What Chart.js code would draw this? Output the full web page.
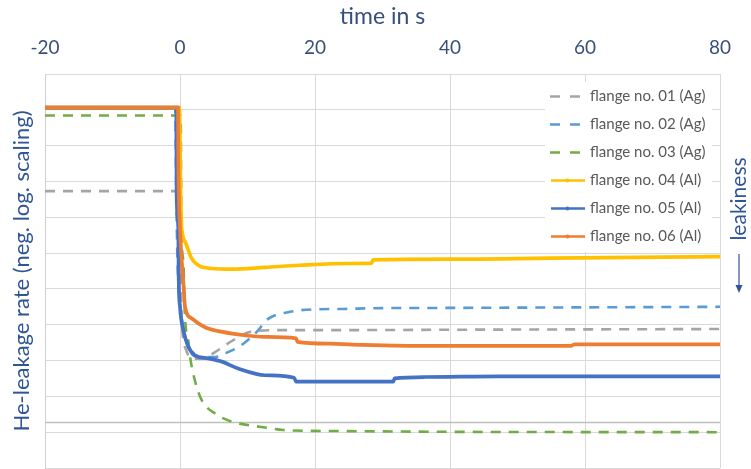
<!DOCTYPE html>
<html><head><meta charset="utf-8">
<script src="https://cdn.jsdelivr.net/npm/chart.js@4/dist/chart.umd.min.js"></script>
<style>html,body{margin:0;padding:0;background:#fff;}#wrap{width:751px;height:469px;}</style>
</head><body><div id="wrap"><canvas id="c" width="751" height="469"></canvas></div>
<script>
// ---- data (time in s, level = position on the reversed neg.-log leakage scale, 0 = top) ----
const xTickValues = [-20, 0, 20, 40, 60, 80];
const seriesNames = ['flange no. 01 (Ag)','flange no. 02 (Ag)','flange no. 03 (Ag)','flange no. 04 (Al)','flange no. 05 (Al)','flange no. 06 (Al)'];
const seriesColors = ['#A5A5A5','#5B9BD5','#70AD47','#FFC000','#4472C4','#ED7D31'];
const seriesDashed = [true, true, true, false, false, false];

const f01Time  = [-20, -0.3, 0.0, 0.3, 0.9, 2.0, 3.5, 4.9, 7.9, 10.4, 15.3, 24.1, 40, 80];
const f01Level = [3.27, 3.27, 5.0, 7.0, 7.7, 7.95, 7.95, 7.80, 7.43, 7.20, 7.15, 7.15, 7.14, 7.12];

const f02Time  = [-20, -0.7, -0.6, -0.4, 0.25, 0.75, 1.7, 2.7, 5.2, 6.7, 9.1, 11.6, 12.8, 16.3, 20.2, 24.2, 28.3, 40, 80];
const f02Level = [0.94, 0.94, 2.5, 5.0, 6.78, 7.34, 7.80, 7.90, 7.90, 7.80, 7.57, 7.15, 6.87, 6.64, 6.57, 6.56, 6.54, 6.53, 6.50];

const f03Time  = [-20, 0.1, 0.2, 0.5, 0.74, 1.23, 1.5, 2.2, 3.2, 5.2, 7.7, 10.1, 12.6, 15.3, 24.2, 40, 80];
const f03Level = [1.16, 1.16, 4.3, 5.24, 6.78, 7.43, 7.90, 8.55, 9.10, 9.48, 9.71, 9.80, 9.87, 9.94, 9.97, 9.99, 10.0];

const f04Time  = [-20, -0.1, 0.1, 0.25, 0.75, 1.7, 2.7, 4.7, 7.7, 12.6, 17.8, 25.2, 28.4, 28.6, 40, 55, 80];
const f04Level = [0.94, 0.94, 3.38, 4.30, 4.68, 5.14, 5.34, 5.43, 5.45, 5.40, 5.34, 5.29, 5.28, 5.19, 5.17, 5.14, 5.10];

const f05Time  = [-20, -0.55, -0.5, -0.25, -0.2, 0.0, 0.5, 1.2, 2.2, 4.2, 6.2, 8.6, 12.6, 16.9, 17.2, 31.6, 31.8, 36.3, 47.4, 80];
const f05Level = [0.94, 0.94, 3.38, 4.31, 5.56, 6.50, 7.15, 7.60, 7.85, 7.94, 8.03, 8.22, 8.41, 8.48, 8.59, 8.59, 8.50, 8.46, 8.44, 8.44];

const f06Time  = [-20, -0.3, -0.25, 0.0, 0.5, 0.75, 1.7, 3.7, 5.7, 8.6, 12.6, 17.2, 17.4, 22, 27, 37, 58, 58.4, 80];
const f06Level = [0.94, 0.94, 2.45, 4.30, 5.84, 6.50, 6.82, 7.07, 7.18, 7.27, 7.34, 7.38, 7.48, 7.53, 7.56, 7.59, 7.59, 7.55, 7.55];

const seriesTimes  = [f01Time, f02Time, f03Time, f04Time, f05Time, f06Time];
const seriesLevels = [f01Level, f02Level, f03Level, f04Level, f05Level, f06Level];
const levelMin = 0, levelMax = 11;
const axisCrossLevel = 9.72;

const FONT = 'Lato, "Open Sans", sans-serif';

const datasets = seriesNames.map((name, i) => ({
  label: name,
  data: seriesTimes[i].map((t, k) => ({x: t, y: seriesLevels[i][k]})),
  borderColor: seriesColors[i],
  backgroundColor: seriesColors[i],
  borderWidth: seriesDashed[i] ? 2.6 : 3.7,
  borderDash: seriesDashed[i] ? [10, 8] : [],
  borderCapStyle: 'butt',
  pointRadius: 0,
  fill: false,
  cubicInterpolationMode: 'monotone',
  order: 6 - i
}));

const overlayPlugin = {
  id: 'overlay',
  beforeDatasetsDraw(chart) {
    const {ctx, chartArea, scales} = chart;
    const y = Math.round(scales.y.getPixelForValue(axisCrossLevel)) + 0.5;
    ctx.save();
    ctx.strokeStyle = '#BFBFBF';
    ctx.lineWidth = 1.5;
    ctx.beginPath(); ctx.moveTo(chartArea.left, y); ctx.lineTo(chartArea.right, y); ctx.stroke();
    ctx.restore();
  },
  afterDatasetsDraw(chart) {
    const {ctx, chartArea} = chart;
    // legend box inside the plot area
    const bx = chartArea.right - 175, by = chartArea.top + 8, bw = 167, bh = 170;
    ctx.save();
    ctx.fillStyle = '#ffffff';
    ctx.fillRect(bx, by, bw, bh);
    ctx.font = '15px ' + FONT;
    ctx.textBaseline = 'middle';
    ctx.textAlign = 'left';
    seriesNames.forEach((name, i) => {
      const cy = by + 14.5 + i * 28;
      const x0 = bx + 5, x1 = bx + 40;
      ctx.strokeStyle = seriesColors[i];
      ctx.lineCap = 'butt';
      if (seriesDashed[i]) {
        ctx.lineWidth = 2.6;
        ctx.setLineDash([10, 10]);
        ctx.beginPath(); ctx.moveTo(x0, cy); ctx.lineTo(x0 + 30, cy); ctx.stroke();
        ctx.setLineDash([]);
      } else {
        ctx.lineWidth = 2.4;
        ctx.beginPath(); ctx.moveTo(x0 + 1, cy); ctx.lineTo(x1, cy); ctx.stroke();
        ctx.fillStyle = seriesColors[i];
        ctx.beginPath(); ctx.arc((x0 + x1) / 2, cy, 2, 0, Math.PI * 2); ctx.fill();
      }
      ctx.fillStyle = '#595959';
      ctx.fillText(name, bx + 45, cy);
    });
    ctx.restore();
  },
  afterDraw(chart) {
    const {ctx, chartArea} = chart;
    const cx = chartArea.right + 19;
    ctx.save();
    ctx.fillStyle = '#2F5597';
    ctx.font = '21px ' + FONT;
    ctx.translate(cx, 199);
    ctx.rotate(-Math.PI / 2);
    ctx.textAlign = 'center';
    ctx.textBaseline = 'middle';
    ctx.fillText('leakiness', 0, 0);
    ctx.restore();
    ctx.save();
    ctx.strokeStyle = '#2F5597';
    ctx.fillStyle = '#2F5597';
    ctx.lineWidth = 1.2;
    ctx.beginPath(); ctx.moveTo(cx, 254); ctx.lineTo(cx, 286); ctx.stroke();
    ctx.beginPath(); ctx.moveTo(cx - 3.5, 285); ctx.lineTo(cx + 3.5, 285); ctx.lineTo(cx, 293); ctx.closePath(); ctx.fill();
    ctx.restore();
  }
};

new Chart(document.getElementById('c'), {
  type: 'line',
  data: { datasets },
  plugins: [overlayPlugin],
  options: {
    responsive: false,
    devicePixelRatio: 1,
    animation: false,
    layout: { padding: { left: 0, top: 0, right: 31, bottom: 1 } },
    plugins: { legend: { display: false }, tooltip: { enabled: false } },
    scales: {
      x: {
        type: 'linear',
        position: 'top',
        min: -20, max: 80,
        afterBuildTicks: (s) => { s.ticks = xTickValues.map(v => ({value: v})); },
        afterFit: (s) => { s.height = 74; },
        grid: { color: '#D9D9D9', lineWidth: 1, drawTicks: false },
        border: { display: true, color: '#D9D9D9' },
        ticks: { color: '#3A4F7A', font: { family: FONT, size: 19 }, padding: 15 },
        title: { display: true, text: 'time in s', color: '#34507F', font: { family: FONT, size: 23 }, padding: { top: 3, bottom: 0 } }
      },
      y: {
        type: 'linear',
        reverse: true,
        min: levelMin, max: levelMax,
        afterFit: (s) => { s.width = 45; },
        grid: { color: '#D9D9D9', lineWidth: 1, drawTicks: false },
        border: { display: true, color: '#D0D0D0' },
        ticks: { display: false, stepSize: 1 },
        title: { display: true, text: 'He-leakage rate (neg. log. scaling)', color: '#2F5597', font: { family: FONT, size: 22 }, padding: { top: 9, bottom: 0 } }
      }
    }
  }
});
</script>
</body></html>
